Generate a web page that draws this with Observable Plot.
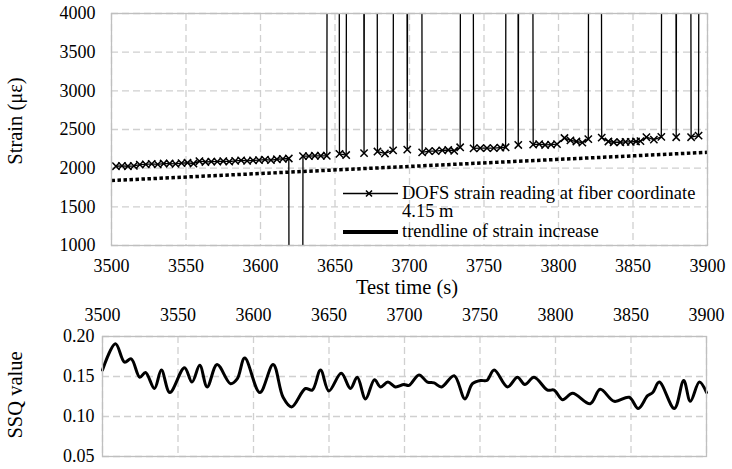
<!DOCTYPE html>
<html><head><meta charset="utf-8">
<script src="https://cdn.jsdelivr.net/npm/d3@7"></script>
<script src="https://cdn.jsdelivr.net/npm/@observablehq/plot@0.6"></script>
<style>
body{margin:0;background:#fff;}
#wrap{position:relative;width:732px;height:469px;font-family:"Liberation Serif","Times New Roman",serif;color:#000;}
#wrap svg{display:block;font-family:"Liberation Serif","Times New Roman",serif !important;}
#wrap svg text{font-family:"Liberation Serif","Times New Roman",serif !important;}
.lg{position:absolute;font-size:18.5px;line-height:15px;white-space:nowrap;color:#000;}
.lg svg{display:inline-block !important;vertical-align:top;}
.ttl{position:absolute;font-size:20.5px;line-height:1;white-space:nowrap;color:#000;}
</style></head><body>
<div id="wrap"><div id="top"></div><div id="bottom"></div>
<div class="lg" style="left:343px;top:185.5px"><svg width="56" height="15"><line x1="0" x2="55" y1="7.5" y2="7.5" stroke="#000" stroke-width="1.3"/><path d="M23,4.5L29,10.5M29,4.5L23,10.5" stroke="#000" stroke-width="1.6"/></svg><span style="margin-left:3px">DOFS strain reading at fiber coordinate</span></div>
<div class="lg" style="left:402px;top:204px">4.15 m</div>
<div class="lg" style="left:343px;top:223.5px"><svg width="56" height="15"><line x1="0" x2="55" y1="8" y2="8" stroke="#000" stroke-width="4"/></svg><span style="margin-left:3px">trendline of strain increase</span></div>
<div class="ttl" style="left:407px;top:287px;transform:translate(-50%,-50%)">Test time (s)</div>
<div class="ttl" style="left:15px;top:121px;transform:translate(-50%,-50%) rotate(-90deg)">Strain (με)</div>
<div class="ttl" style="left:15px;top:395px;transform:translate(-50%,-50%) rotate(-90deg)">SSQ value</div>
</div>
<script>
// ---- data ----
const strainTimes = [3503,3507,3511,3515,3519,3523,3527,3531,3535,3539,3543,3547,3551,3555,3559,3563,3567,3571,3575,3579,3583,3587,3591,3595,3599,3603,3607,3611,3615,3619,
  3624,3628.5,3632.5,3636.5,3640.5,3644.5,3649,3653,3657.5,3661.5,3665.5,3669.5,3674,3678.5,3683.5,3689,3694,3698.5,3703.5,
  3708.5,3713,3717.5,3722,3726,3730,3734,3738.5,3743,3747.5,3752,3756.5,3761,3764.5,3769,3773,3778,
  3783,3787,3791,3795,3799,3804,3808,3812,3816,3820,3824,
  3829,3833.5,3837,3841.5,3845,3848.5,3852,3855,3859,3864,3869,3874,3879,3884,3889,3894,3898.5];
const strainValues = [2025,2030,2025,2030,2045,2050,2055,2050,2060,2060,2055,2065,2070,2060,2090,2080,2085,2085,2090,2085,2095,2100,2095,2100,2105,2110,2105,2115,2120,2125,
  -60000,2155,2155,2160,2160,2160,60000,2185,2170,60000,60000,2195,60000,2215,2190,2230,60000,2240,60000,
  2205,2220,2220,2230,2235,2225,2270,60000,2255,2260,2260,2260,2265,2270,60000,2300,60000,
  2305,2310,2300,2305,2310,2390,2360,2345,2330,2375,60000,
  2395,2345,2335,2335,2340,2340,2345,2350,2400,2370,2405,60000,2400,60000,2400,2420,60000];
const trendTimes = [3500, 3900];
const trendValues = [1840, 2205];
const ssqTimes = [3500,3508.6,3514.6,3519,3524.7,3528.5,3534.4,3539,3544.6,3554.3,3559.3,3564.4,3569.3,3575.9,3584.8,3589.2,3594.2,3604.2,3613,3619.6,3625.2,3634.4,3638.9,3644.4,3649.9,3658.1,3664.2,3668.7,3674.2,3680.1,3684.1,3689,3694,3699.6,
  3703,3709.6,3715.2,3719.6,3724.5,3732.9,3740,3745,3750.5,3754.5,3759.4,3768.2,3774.8,3779.7,3785.8,3794.7,3799.1,3804.7,3811.3,3823,3829.6,3838.9,3848.8,3854.8,3861,3864.4,3868.7,3878.7,3884.9,3889.3,3895.3,3900];
const ssqValues = [0.158,0.191,0.168,0.172,0.149,0.155,0.135,0.158,0.130,0.161,0.143,0.164,0.137,0.165,0.141,0.147,0.173,0.130,0.165,0.124,0.112,0.135,0.133,0.158,0.132,0.154,0.135,0.149,0.122,0.146,0.137,0.143,0.137,0.140,
  0.139,0.152,0.143,0.142,0.137,0.151,0.122,0.141,0.145,0.145,0.158,0.137,0.149,0.140,0.149,0.133,0.133,0.121,0.129,0.116,0.134,0.119,0.124,0.110,0.126,0.130,0.143,0.110,0.145,0.119,0.143,0.130];
const timeTicks = [3500,3550,3600,3650,3700,3750,3800,3850,3900];
const strainTicks = [1000,1500,2000,2500,3000,3500,4000];
const ssqTicks = [0.05,0.10,0.15,0.20];

// ---- build ----
const strainData = strainTimes.map((t,i)=>({t, v: strainValues[i]}));
const markerData = strainData.filter(d => d.v >= 1000 && d.v <= 4000);
const trendData = trendTimes.map((t,i)=>({t, v: trendValues[i]}));
const ssqData = ssqTimes.map((t,i)=>({t, v: ssqValues[i]}));

const font = {fontFamily:"'Liberation Serif','Times New Roman',serif", fontSize:"18px", color:"#000", background:"#fff", overflow:"visible"};
const grid = {stroke:"#d0d0d0", strokeOpacity:1, strokeDasharray:"7,4", strokeWidth:1.3};

const topPlot = Plot.plot({
  width:732, height:300,
  marginLeft:111, marginRight:25, marginTop:13, marginBottom:55,
  style: font,
  x:{domain:[3500,3900], ticks:timeTicks, tickSize:0, tickPadding:14, tickFormat:"d", label:null},
  y:{domain:[1000,4000], ticks:strainTicks, tickSize:0, tickPadding:16, tickFormat:"d", label:null},
  marks:[
    Plot.gridX(timeTicks, grid),
    Plot.gridY(strainTicks, grid),
    Plot.line(trendData, {x:"t", y:"v", stroke:"#000", strokeWidth:3.5, strokeDasharray:"3.5,2.5", strokeLinecap:"butt"}),
    Plot.line(strainData, {x:"t", y:"v", stroke:"#000", strokeWidth:1.3, clip:true}),
    Plot.dot(markerData, {x:"t", y:"v", symbol:"times", r:3.4, stroke:"#000", strokeWidth:1.5}),
    Plot.frame({stroke:"#bfbfbf", strokeWidth:1.3})
  ]
});
document.getElementById("top").append(topPlot);

const bottomPlot = Plot.plot({
  width:732, height:169,
  marginLeft:102, marginRight:26, marginTop:36, marginBottom:13,
  style: font,
  x:{domain:[3500,3900], ticks:timeTicks, tickSize:0, tickPadding:16, tickFormat:"d", axis:"top", label:null},
  y:{domain:[0.05,0.20], ticks:ssqTicks, tickSize:0, tickPadding:8, tickFormat:".2f", label:null},
  marks:[
    Plot.gridX(timeTicks, grid),
    Plot.gridY(ssqTicks, grid),
    Plot.line(ssqData, {x:"t", y:"v", stroke:"#000", strokeWidth:3, curve:"catmull-rom"}),
    Plot.frame({stroke:"#bfbfbf", strokeWidth:1.3})
  ]
});
document.getElementById("bottom").append(bottomPlot);
</script>
</body></html>
